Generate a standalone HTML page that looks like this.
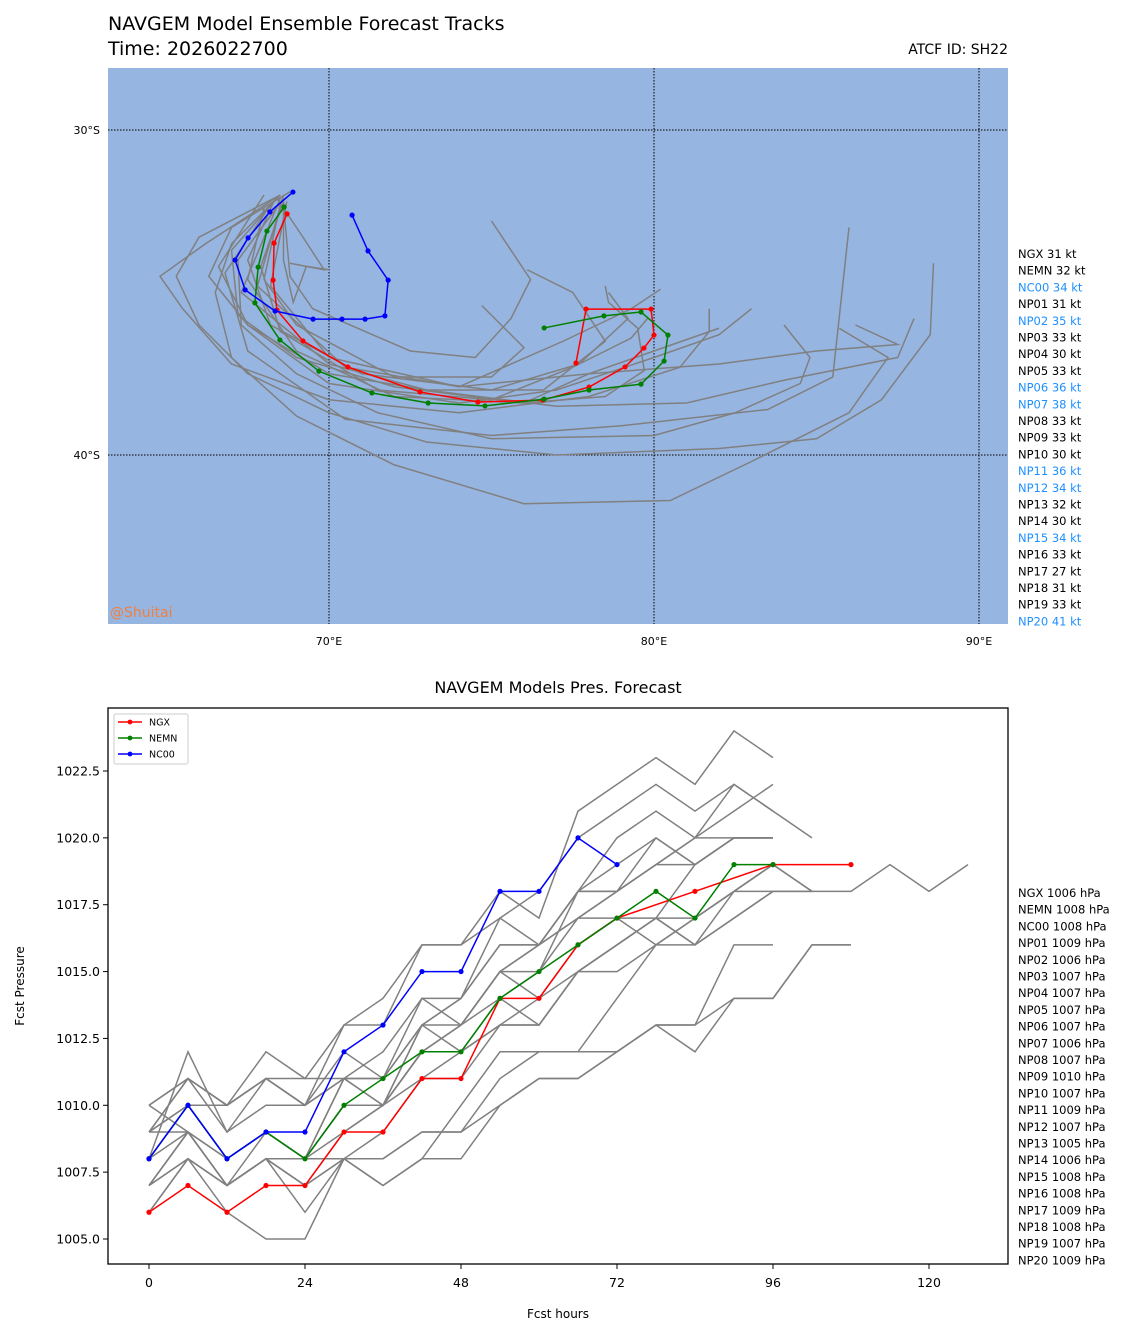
<!DOCTYPE html>
<html><head><meta charset="utf-8">
<style>
body{margin:0;background:#fff;font-family:"Liberation Sans","DejaVu Sans",sans-serif}
svg text{font-family:"DejaVu Sans","Liberation Sans",sans-serif}
</style></head>
<body>
<svg id="s" width="1131" height="1335" xmlns="http://www.w3.org/2000/svg">
<text x="108" y="30" font-size="19">NAVGEM Model Ensemble Forecast Tracks</text>
<text x="108" y="55" font-size="19">Time: 2026022700</text>
<text x="1008" y="54" font-size="14" text-anchor="end">ATCF ID: SH22</text>
<rect x="108" y="68" width="900" height="556" fill="#97b5e1"/>
<g id="mapgrid"></g>
<g id="maptracks"></g>
<text x="110" y="617" font-size="14" fill="#f08040">@Shuitai</text>
<g id="maplegend"></g>
<text x="558" y="693" font-size="16" text-anchor="middle">NAVGEM Models Pres. Forecast</text>
<g id="pgrid"></g>
<g id="plines"></g>
<rect x="108" y="708" width="900" height="556" fill="none" stroke="#000" stroke-width="1.3"/>
<g id="plegbox"></g>
<g id="plegend"></g>
<text x="558" y="1318" font-size="12" text-anchor="middle">Fcst hours</text>
<text x="24" y="986" font-size="12" text-anchor="middle" transform="rotate(-90 24 986)">Fcst Pressure</text>
</svg>
<script>
const lonTicks=[70,80,90];
const latTicks=[30,40];
const ngxTrack=[[68.71,32.58],[68.31,33.48],[68.28,34.62],[68.40,35.54],[69.20,36.49],[70.58,37.29],[72.80,38.06],[74.58,38.37],[76.58,38.31],[78.00,37.91],[79.11,37.29],[79.69,36.71],[80.00,36.31],[79.91,35.51],[77.91,35.51],[77.60,37.17]];
const nemnTrack=[[68.62,32.37],[68.09,33.11],[67.82,34.22],[67.72,35.32],[68.49,36.46],[69.69,37.42],[71.32,38.09],[73.05,38.40],[74.80,38.49],[76.62,38.28],[78.00,38.00],[79.60,37.82],[80.31,37.11],[80.43,36.31],[79.60,35.60],[78.46,35.72],[76.62,36.09]];
const nc00Track=[[68.89,31.91],[68.18,32.52],[67.51,33.32],[67.11,34.00],[67.42,34.92],[68.34,35.57],[69.51,35.82],[70.40,35.82],[71.11,35.82],[71.72,35.72],[71.82,34.62],[71.20,33.72],[70.71,32.62]];
const grayTracks=[
[[68.5,32],[66,33.3],[65.3,34.5],[66,36],[67.5,37.5],[70,38.7],[73,39.6],[77,40.0],[82,39.8],[85,39.5],[87,38.3],[88.5,36.3],[88.6,34.1]],
[[68.5,32],[67,33.5],[66.5,35],[67,37],[69,38.8],[72,40.3],[76,41.5],[80.5,41.4],[83,40.2],[86,38.7],[87.2,37],[85.7,36.1]],
[[68.8,31.9],[67,33],[66.3,34.5],[67.5,36],[70,37.5],[73,38],[77,38.5],[81,38.4],[84,37.7],[87.5,37],[88,35.8]],
[[68,32],[66.6,34.2],[67.5,36],[70,37.8],[74,38.4],[77,38],[80,37],[82,36.3],[83,35.5]],
[[68.3,32.2],[67.5,34],[68.2,36],[71,37.5],[75,38],[77.7,37.2],[79.2,35.8],[78.6,35]],
[[68.5,32.3],[68,34.6],[69,36],[72,37.6],[75,37.6],[76,36.7],[74.7,35.4]],
[[68.6,32.3],[68.8,34.5],[69.5,35.5],[72.5,36.8],[74.5,37],[75.6,35.8],[76.2,34.6],[75.0,32.8]],
[[68.4,32.1],[69.2,33.3],[69.85,34.3],[68.8,34.1]],
[[68.6,32.1],[67.2,34],[67.3,36],[69,37.5],[71.5,38.7],[75,39.5],[80,39.4],[82.5,38.7],[84.5,37.8],[84.8,37],[84,36]],
[[68.5,32],[66.2,33.5],[64.8,34.5],[65.5,35.5],[67,37.2],[70,38.3],[74,38.7],[78,38.2],[80.8,37.3],[81.7,36.2],[81.7,35.5]],
[[68,32.4],[67.5,34.6],[69,36.8],[72,38.2],[76,38.4],[78.5,38.2],[79.7,37.4],[79.5,36.1],[78.6,35.3],[78.5,34.8]],
[[68.5,32.1],[67.3,35],[70,37.2],[73,38],[76.6,38],[78.5,36.5],[77.5,35],[76.1,34.3]],
[[68.6,32],[67.8,34.8],[70.5,37.3],[74,37.9],[77.2,36.5],[79.3,35.5],[80.2,34.9]],
[[68.7,32.2],[68.2,34.8],[70,37],[74,37.9],[78,37.5],[82,37.2],[85,36.8],[87.5,36.6],[86.2,36]],
[[68.4,32.1],[67,33.7],[67.2,35.7],[69,37],[72,37.9],[76,38.4],[78,37.5],[80,36.8],[82,36.1]],
[[68.6,32.2],[68.6,34],[68.9,35.3],[69.3,34.2],[70,34.3]],
[[68.2,32.3],[66.8,34.4],[67.5,36.8],[70.5,38.9],[75,39.4],[79,39.1],[83.5,38.6],[85.5,37.6],[86,33]],
[[68.6,32.2],[67.9,34.2],[68.5,36.2],[71.5,38],[75,38.3],[77.5,37.3],[79.3,36.4],[79.8,35.8]]
];
const legNames=["NGX 31 kt","NEMN 32 kt","NC00 34 kt","NP01 31 kt","NP02 35 kt","NP03 33 kt","NP04 30 kt","NP05 33 kt","NP06 36 kt","NP07 38 kt","NP08 33 kt","NP09 33 kt","NP10 30 kt","NP11 36 kt","NP12 34 kt","NP13 32 kt","NP14 30 kt","NP15 34 kt","NP16 33 kt","NP17 27 kt","NP18 31 kt","NP19 33 kt","NP20 41 kt"];
const legBlue=[2,4,8,9,13,14,17,22];
const hours=[0,6,12,18,24,30,36,42,48,54,60,66,72,78,84,90,96,102,108,114,120,126];
const ngxHours=[0,6,12,18,24,30,36,42,48,54,60,66,72,84,96,108];
const yTicks=[1005.0,1007.5,1010.0,1012.5,1015.0,1017.5,1020.0,1022.5];
const xTicks=[0,24,48,72,96,120];
const ngxP=[1006,1007,1006,1007,1007,1009,1009,1011,1011,1014,1014,1016,1017,1018,1019,1019];
const nemnP=[1008,1010,1008,1009,1008,1010,1011,1012,1012,1014,1015,1016,1017,1018,1017,1019,1019];
const nc00P=[1008,1010,1008,1009,1009,1012,1013,1015,1015,1018,1018,1020,1019];
const grayP=[
[1009,1011,1010,1011,1011,1011,1010,1013,1014,1016,1016,1018,1020,1021,1020,1020,1020],
[1006,1008,1007,1008,1008,1008,1008,1009,1009,1011,1012,1012,1012,1013,1013,1016,1016],
[1007,1009,1007,1008,1006,1008,1009,1011,1011,1013,1014,1015,1016,1017,1019,1020,1020],
[1007,1008,1007,1008,1007,1008,1007,1008,1008,1010,1011,1011,1012,1013,1012,1014,1014,1016,1016],
[1007,1009,1008,1009,1008,1010,1010,1012,1012,1013,1013,1015,1016,1017,1017,1018,1019,1018,1018,1019,1018,1019],
[1006,1008,1007,1008,1008,1010,1010,1012,1013,1015,1016,1017,1018,1019,1019,1020,1020],
[1007,1009,1007,1008,1007,1009,1010,1012,1013,1014,1015,1017,1018,1019,1020,1022,1021,1020],
[1008,1010,1008,1009,1008,1011,1011,1013,1013,1015,1015,1018,1018,1020,1019,1020,1020],
[1009,1011,1009,1011,1010,1011,1011,1014,1014,1016,1016,1018,1018,1019,1020,1021,1022],
[1008,1012,1009,1010,1010,1011,1012,1014,1013,1015,1016,1018,1019,1020,1019,1020,1020],
[1010,1011,1010,1011,1010,1013,1013,1016,1016,1018,1017,1021,1022,1023,1022,1024,1023],
[1009,1010,1010,1012,1011,1013,1014,1016,1016,1017,1018,1020,1021,1022,1021,1022,1021],
[1010,1011,1010,1011,1010,1012,1011,1013,1014,1017,1016,1017,1017,1017,1016,1017,1018,1018],
[1009,1010,1008,1009,1008,1011,1010,1013,1012,1014,1013,1015,1016,1017,1016,1018,1018],
[1008,1009,1007,1009,1008,1010,1010,1012,1013,1015,1014,1016,1017,1016,1017,1018,1019],
[1007,1008,1006,1005,1005,1008,1008,1009,1009,1010,1011,1011,1012,1013,1013,1014,1014,1016,1016],
[1009,1009,1007,1008,1007,1008,1007,1008,1010,1012,1012,1012,1014,1016,1016,1017,1018,1018],
[1010,1009,1008,1009,1008,1009,1010,1011,1012,1013,1013,1015,1015,1016,1017,1018,1019,1018]
];
const plegNames=["NGX 1006 hPa","NEMN 1008 hPa","NC00 1008 hPa","NP01 1009 hPa","NP02 1006 hPa","NP03 1007 hPa","NP04 1007 hPa","NP05 1007 hPa","NP06 1007 hPa","NP07 1006 hPa","NP08 1007 hPa","NP09 1010 hPa","NP10 1007 hPa","NP11 1009 hPa","NP12 1007 hPa","NP13 1005 hPa","NP14 1006 hPa","NP15 1008 hPa","NP16 1008 hPa","NP17 1009 hPa","NP18 1008 hPa","NP19 1007 hPa","NP20 1009 hPa"];

const NS="http://www.w3.org/2000/svg";
function mk(t,a,p){const e=document.createElementNS(NS,t);for(const k in a)e.setAttribute(k,a[k]);p.appendChild(e);return e;}
const mx=lon=>329+(lon-70)*32.5, my=lat=>130+(lat-30)*32.5;
const px=h=>149+h*6.5, py=v=>1239-(v-1005)*26.743;

const mg=document.getElementById('mapgrid');
lonTicks.forEach(l=>{const x=mx(l);
 const ln=mk('line',{x1:x,x2:x,y1:68,y2:624,stroke:'#000','stroke-dasharray':'1.5,1.5','stroke-width':1},mg);
 
 
 const t=mk('text',{x:x,y:645,'font-size':11,'text-anchor':'middle'},mg);t.textContent=l+'°E';
 
 });
latTicks.forEach(l=>{const y=my(l);
 const ln=mk('line',{x1:108,x2:1008,y1:y,y2:y,stroke:'#000','stroke-dasharray':'1.5,1.5','stroke-width':1},mg);
 
 
 const t=mk('text',{x:100,y:y+4,'font-size':11,'text-anchor':'end'},mg);t.textContent=l+'°S';
 
 });

const mt=document.getElementById('maptracks');
grayTracks.forEach(tr=>{const p=mk('polyline',{points:tr.map(d=>mx(d[0])+','+my(d[1])).join(' '),fill:'none',stroke:'#808080','stroke-width':1.5},mt);
 
 });
[[ngxTrack,'#ff0000','ngx-track'],[nemnTrack,'#008000','nemn-track'],[nc00Track,'#0000ff','nc00-track']].forEach(([tr,c,n])=>{
 const p=mk('polyline',{points:tr.map(d=>mx(d[0])+','+my(d[1])).join(' '),fill:'none',stroke:c,'stroke-width':1.5},mt);
 
 
 tr.forEach(d=>{const c2=mk('circle',{cx:mx(d[0]),cy:my(d[1]),r:2.6,fill:c},mt);
  
  });});

const ml=document.getElementById('maplegend');
legNames.forEach((n,i)=>{const t=mk('text',{x:1018,y:258+i*16.7,'font-size':11.5,fill:legBlue.includes(i)?'#1e90ff':'#000'},ml);t.textContent=n;
 
 });

const pg=document.getElementById('pgrid');
yTicks.forEach(v=>{const y=py(v);
 const l=mk('line',{x1:103,x2:108,y1:y,y2:y,stroke:'#000'},pg);
 
 
 const t=mk('text',{x:100,y:y+4.5,'font-size':12.5,'text-anchor':'end'},pg);t.textContent=v.toFixed(1);
 
 });
xTicks.forEach(h=>{const x=px(h);
 const l=mk('line',{x1:x,x2:x,y1:1264,y2:1269,stroke:'#000'},pg);
 
 
 const t=mk('text',{x:x,y:1287,'font-size':12.5,'text-anchor':'middle'},pg);t.textContent=h;
 
 });

const pl=document.getElementById('plines');
grayP.forEach(s=>{const p=mk('polyline',{points:s.map((v,i)=>px(hours[i])+','+py(v)).join(' '),fill:'none',stroke:'#808080','stroke-width':1.5},pl);
 
 });
[[ngxP,ngxHours,'#ff0000','ngx-pressure'],[nemnP,hours,'#008000','nemn-pressure'],[nc00P,hours,'#0000ff','nc00-pressure']].forEach(([s,hh,c,n])=>{
 const p=mk('polyline',{points:s.map((v,i)=>px(hh[i])+','+py(v)).join(' '),fill:'none',stroke:c,'stroke-width':1.5},pl);
 
 
 s.forEach((v,i)=>{const c2=mk('circle',{cx:px(hh[i]),cy:py(v),r:2.6,fill:c},pl);
  
  });});

const lb=document.getElementById('plegbox');
const box=mk('rect',{x:114,y:714,width:74,height:50,fill:'#fff',stroke:'#ccc',rx:2},lb);


[['NGX','#ff0000'],['NEMN','#008000'],['NC00','#0000ff']].forEach(([n,c],i)=>{const y=722+i*16;
 const l=mk('line',{x1:118,x2:142,y1:y,y2:y,stroke:c,'stroke-width':1.5},lb);
 
 
 mk('circle',{cx:130,cy:y,r:2.4,fill:c},lb);
 const t=mk('text',{x:149,y:y+3.5,'font-size':9.5},lb);t.textContent=n;
 
 });

const plg=document.getElementById('plegend');
plegNames.forEach((n,i)=>{const t=mk('text',{x:1018,y:897+i*16.7,'font-size':11.5},plg);t.textContent=n;
 
 });
</script>
</body></html>
